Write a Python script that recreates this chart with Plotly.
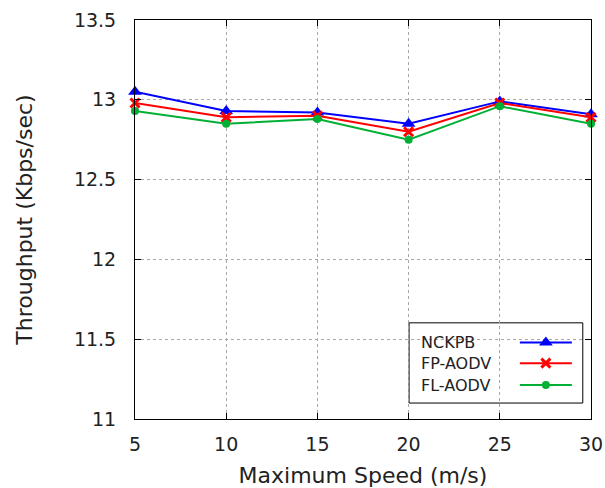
import plotly.graph_objects as go

speeds = [5, 10, 15, 20, 25, 30]
nckpb = [13.05, 12.93, 12.92, 12.85, 12.99, 12.91]
fp_aodv = [12.98, 12.89, 12.90, 12.80, 12.98, 12.89]
fl_aodv = [12.93, 12.85, 12.88, 12.75, 12.96, 12.85]

names = ["NCKPB", "FP-AODV", "FL-AODV"]
colors = ["#0000ff", "#ff0000", "#00b035"]
symbols = ["triangle-up", "x-thin-open", "circle"]
msizes = [12, 9, 8]
series = [nckpb, fp_aodv, fl_aodv]

FONT = "DejaVu Sans"

fig = go.Figure()
for name, vals, c, s, ms in zip(names, series, colors, symbols, msizes):
    fig.add_trace(go.Scatter(
        x=speeds, y=vals, name=name, mode="lines+markers",
        line=dict(color=c, width=2),
        marker=dict(symbol=s, size=ms, color=c, line=dict(color=c, width=3 if s.startswith("x") else 0)),
        showlegend=False, cliponaxis=False,
    ))

# manual gnuplot-style legend (text left, sample right)
row_y = [0.192, 0.140, 0.085]
for name, c, s, ms, ry in zip(names, colors, symbols, msizes, row_y):
    fig.add_trace(go.Scatter(
        x=[0.844, 0.901, 0.958], y=[ry, ry, ry], xaxis="x2", yaxis="y2",
        mode="lines", line=dict(color=c, width=2), showlegend=False, hoverinfo="skip"))
    fig.add_trace(go.Scatter(
        x=[0.901], y=[ry], xaxis="x2", yaxis="y2", mode="markers",
        marker=dict(symbol=s, size=ms, color=c, line=dict(color=c, width=3 if s.startswith("x") else 0)),
        showlegend=False, hoverinfo="skip"))
    fig.add_annotation(x=0.623, y=ry, xref="paper", yref="paper", text=name,
                       showarrow=False, xanchor="left", yanchor="middle",
                       font=dict(family=FONT, size=16, color="#222"))

fig.add_shape(type="rect", xref="paper", yref="paper", x0=0.601, x1=0.982, y0=0.040, y1=0.241,
              line=dict(color="black", width=1), fillcolor="white", layer="below")

axis_common = dict(
    showline=True, linecolor="black", linewidth=1, mirror="ticks",
    ticks="inside", ticklen=6, tickcolor="black", automargin=False,
    showgrid=True, gridcolor="#a8a8a8", griddash="dot", gridwidth=1,
    zeroline=False, tickfont=dict(family=FONT, size=19, color="#222"),
)

fig.update_layout(
    width=605, height=488,
    margin=dict(l=135, r=14, t=20, b=69, autoexpand=False),
    paper_bgcolor="white", plot_bgcolor="white",
    font=dict(family=FONT, color="#222"),
    xaxis=dict(range=[5, 30], tick0=5, dtick=5, ticklabelstandoff=8,
               title=dict(text="Maximum Speed (m/s)", font=dict(family=FONT, size=22), standoff=16),
               **axis_common),
    yaxis=dict(range=[11, 13.5], tick0=11, dtick=0.5, ticklabelstandoff=14,
               title=dict(text="Throughput (Kbps/sec)", font=dict(family=FONT, size=22), standoff=35),
               **axis_common),
    xaxis2=dict(range=[0, 1], overlaying="x", visible=False, fixedrange=True),
    yaxis2=dict(range=[0, 1], overlaying="y", visible=False, fixedrange=True),
)

# remove the default page margin so the figure fills the window exactly
fig.write_html("out.html",
               config={"displayModeBar": False},
               post_script="document.body.style.margin='0';document.body.style.overflow='hidden';")
